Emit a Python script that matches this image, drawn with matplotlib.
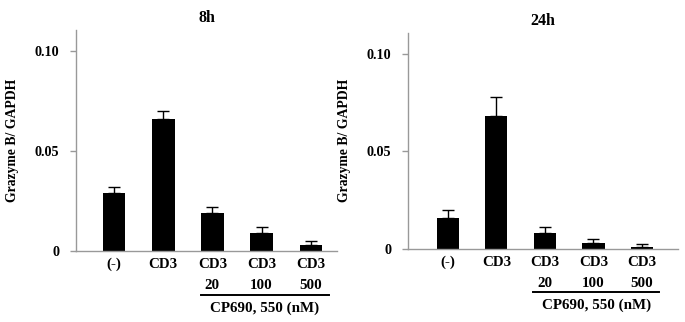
import matplotlib
matplotlib.use('Agg')
import matplotlib.pyplot as plt
import matplotlib.transforms as mtransforms

# data
labels = ['(-)', 'CD3', 'CD3\n20', 'CD3\n100', 'CD3\n500']
mean_8h = [0.029, 0.066, 0.019, 0.009, 0.003]
err_8h = [0.003, 0.004, 0.003, 0.003, 0.0018]
mean_24h = [0.016, 0.068, 0.008, 0.003, 0.001]
err_24h = [0.004, 0.010, 0.0033, 0.002, 0.0013]
yticks = [0, 0.05, 0.10]
ytick_labels = ['0', '0.05', '0.10']

plt.rcParams['font.family'] = ['Liberation Serif', 'DejaVu Serif']
plt.rcParams['font.weight'] = 'bold'

fig = plt.figure(figsize=(6.85, 3.22), dpi=100)

panels = [
    ('8h', mean_8h, err_8h, [0.111, 0.2205, 0.381, 0.686], (-0.77, 4.53), 0.1105),
    ('24h', mean_24h, err_24h, [0.5956, 0.2276, 0.394, 0.670], (-0.82, 4.74), 0.1108),
]

for title, vals, errs, rect, xl, ytop in panels:
    ax = fig.add_axes(rect)
    x = list(range(len(labels)))
    ax.bar(x, vals, width=0.46, color='black', zorder=2)
    ax.errorbar(x, vals, yerr=[[0] * len(errs), errs], fmt='none',
                ecolor='black', elinewidth=1, capsize=4, capthick=1, zorder=3)
    ax.set_xlim(*xl)
    ax.set_ylim(0, ytop)
    ax.set_yticks(yticks)
    ax.set_yticklabels(ytick_labels, fontsize=10.2, fontweight='bold')
    ax.set_xticks(x)
    ax.set_xticklabels(labels, fontsize=10.8, fontweight='bold', linespacing=1.8, va='top')
    ax.tick_params(axis='x', length=0, pad=5)
    ax.tick_params(axis='y', length=4, width=1, color='#999999', pad=8, direction='out')
    for s in ['top', 'right']:
        ax.spines[s].set_visible(False)
    for s in ['left', 'bottom']:
        ax.spines[s].set_color('#999999')
        ax.spines[s].set_linewidth(1)
    ax.set_title(title, fontsize=11.5, fontweight='bold', pad=6)
    ax.set_ylabel('Grazyme B/ GAPDH', fontsize=9.9, fontweight='bold', labelpad=11)

    # bracket under the inhibitor groups
    trans = mtransforms.blended_transform_factory(ax.transData, ax.transAxes)
    ax.plot([1.76, 4.36], [-0.2, -0.2], color='black', lw=1.4,
            transform=trans, clip_on=False)
    ax.text(3.06, -0.26, 'CP690, 550 (nM)', transform=trans, ha='center',
            va='center', fontsize=10.8, fontweight='bold')

fig.savefig('out.png', dpi=100)
